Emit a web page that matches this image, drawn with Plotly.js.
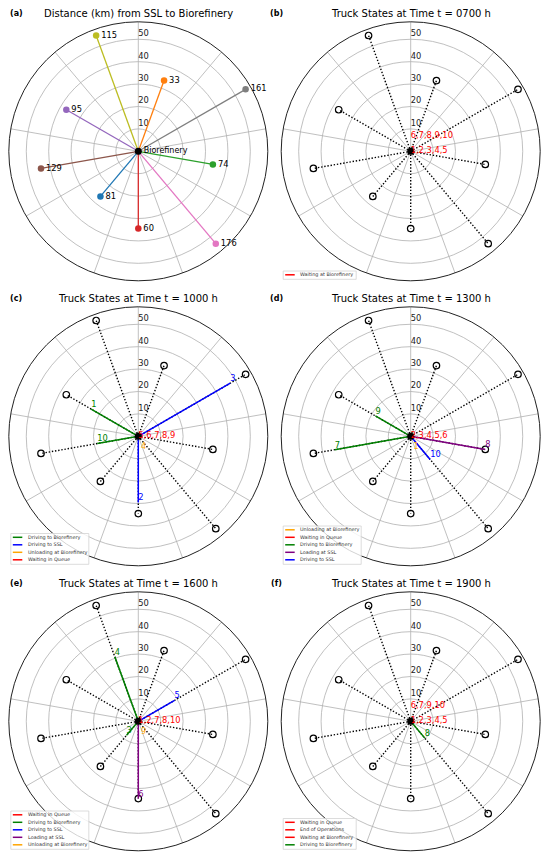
<!DOCTYPE html>
<html><head><meta charset="utf-8">
<script src="https://cdn.plot.ly/plotly-3.0.1.min.js"></script>
<style>html,body{margin:0;padding:0;background:#fff}#chart{width:550px;height:860px}</style>
</head><body><div id="chart"></div>
<script>
// ---------------- data ----------------
const sslIds = [81, 33, 74, 60, 95, 129, 176, 161, 115];
const sslAngles = [220, 20, 100, 180, 300, 260, 140, 60, 340];
const sslDistances = [26.3, 33.6, 33.8, 34.5, 37.1, 44.1, 53.8, 55.3, 55.0];
const radialTicks = [10, 20, 30, 40, 50];
const angularGrid = [0, 40, 80, 120, 160, 200, 240, 280, 320];

const snapshotTimes = ['0700', '1000', '1300', '1600', '1900'];
const panelLetters = ['(a)', '(b)', '(c)', '(d)', '(e)', '(f)'];
const firstTitle = 'Distance (km) from SSL to Biorefinery';

// trucks sitting at the biorefinery (red labels), lower line first
const centerGroups = [
  [[1, 2, 3, 4, 5], [6, 7, 8, 9, 10]],
  [[5, 6, 7, 8, 9]],
  [[2, 3, 4, 5, 6]],
  [[1, 2, 7, 8, 10]],
  [[1, 2, 3, 4, 5], [6, 7, 9, 10]]
];
const unloadingTrucks = [[], [4], [1], [9], []];

const movingTrucks = [[], [1, 10, 3, 2], [9, 7, 8, 10], [4, 5, 6, 3], [8]];
const movingStates = [
  [],
  ['Driving to Biorefinery', 'Driving to Biorefinery', 'Driving to SSL', 'Driving to SSL'],
  ['Driving to Biorefinery', 'Driving to Biorefinery', 'Loading at SSL', 'Driving to SSL'],
  ['Driving to Biorefinery', 'Driving to SSL', 'Loading at SSL', 'Driving to Biorefinery'],
  ['Driving to Biorefinery']
];
const movingSSL = [[], [95, 129, 161, 60], [95, 129, 74, 176], [115, 161, 60, 81], [176]];
const movingDistance = [[], [24.3, 18.6, 47.4, 29.5], [18.2, 34.4, 33.8, 13.5], [30.6, 18.7, 34.5, 8.2], [9.8]];

const legendEntries = [
  ['Waiting at Biorefinery'],
  ['Driving to Biorefinery', 'Driving to SSL', 'Unloading at Biorefinery', 'Waiting in Queue'],
  ['Unloading at Biorefinery', 'Waiting in Queue', 'Driving to Biorefinery', 'Loading at SSL', 'Driving to SSL'],
  ['Waiting in Queue', 'Driving to Biorefinery', 'Driving to SSL', 'Loading at SSL', 'Unloading at Biorefinery'],
  ['Waiting in Queue', 'End of Operations', 'Waiting at Biorefinery', 'Driving to Biorefinery']
];

// ---------------- styles ----------------
const palette = ['#1f77b4', '#ff7f0e', '#2ca02c', '#d62728', '#9467bd', '#8c564b', '#e377c2', '#7f7f7f', '#bcbd22'];
const stateColors = {
  'Driving to Biorefinery': '#008000',
  'Driving to SSL': '#0000ff',
  'Unloading at Biorefinery': '#ffa500',
  'Waiting in Queue': '#ff0000',
  'Loading at SSL': '#800080',
  'Waiting at Biorefinery': '#ff0000',
  'End of Operations': '#ff0000'
};
const W = 550, H = 860, R = 129.5;
const colX = [138.3, 410.7];
const rowY = [151.3, 436.3, 721.3];
const FONT = 'DejaVu Sans, sans-serif';
const RLABEL_SHIFT = 2.3;   // radial labels sit a little outside their ring
const UPPER_LINE_R = 7;     // second row of red labels
const UNLOAD_R = 5.2, UNLOAD_THETA = 153;

const angleOf = id => sslAngles[sslIds.indexOf(id)];

const traces = [];
const layout = {
  width: W, height: H,
  margin: {l: 0, r: 0, t: 0, b: 0},
  paper_bgcolor: '#fff',
  showlegend: false,
  font: {family: FONT, color: '#000'},
  annotations: [],
  shapes: []
};

function polarName(k) { return k === 0 ? 'polar' : 'polar' + (k + 1); }

for (let k = 0; k < 6; k++) {
  const cx = colX[k % 2], cy = rowY[Math.floor(k / 2)];
  const name = polarName(k);
  layout[name] = {
    domain: {x: [(cx - R) / W, (cx + R) / W], y: [1 - (cy + R) / H, 1 - (cy - R) / H]},
    bgcolor: '#fff',
    angularaxis: {
      rotation: 90, direction: 'clockwise',
      tickmode: 'array', tickvals: angularGrid, showticklabels: false, ticks: '',
      gridcolor: '#b0b0b0', gridwidth: 0.8,
      showline: true, linecolor: '#222', linewidth: 1
    },
    radialaxis: {
      range: [0, 57.8], tickmode: 'array', tickvals: radialTicks,
      angle: 90, showticklabels: false,
      showline: false, ticks: '',
      gridcolor: '#b0b0b0', gridwidth: 0.8
    }
  };
  // radial tick labels, drawn through the polar scale
  traces.push({type: 'scatterpolar', subplot: name, mode: 'text',
    r: radialTicks.map(v => v + RLABEL_SHIFT), theta: radialTicks.map(() => 0),
    text: radialTicks.map(String), textposition: 'middle right',
    textfont: {size: 8.3, color: '#222', family: FONT}, hoverinfo: 'skip'});

  // titles
  layout.annotations.push({
    xref: 'paper', yref: 'paper', x: cx / W, y: 1 - (cy - 138) / H,
    text: k === 0 ? firstTitle : 'Truck States at Time t = ' + snapshotTimes[k - 1] + ' h',
    showarrow: false, xanchor: 'center', yanchor: 'middle',
    font: {size: 10, color: '#000', family: FONT}
  });
  layout.annotations.push({
    xref: 'paper', yref: 'paper', x: (k % 2 === 0 ? 16 : 276.5) / W, y: 1 - (cy - 138) / H,
    text: '<b>' + panelLetters[k] + '</b>',
    showarrow: false, xanchor: 'center', yanchor: 'middle',
    font: {size: 8, color: '#000', family: FONT}
  });

  if (k === 0) {
    sslIds.forEach((id, i) => {
      traces.push({type: 'scatterpolar', subplot: name, mode: 'lines',
        r: [0, sslDistances[i]], theta: [sslAngles[i], sslAngles[i]],
        line: {color: palette[i], width: 1.3}, hoverinfo: 'skip'});
    });
    traces.push({type: 'scatterpolar', subplot: name, mode: 'markers+text',
      r: sslDistances, theta: sslAngles, text: sslIds.map(String),
      textposition: 'middle right', textfont: {size: 8.3, color: '#000', family: FONT},
      marker: {color: palette, size: 6.5}, hoverinfo: 'skip'});
    traces.push({type: 'scatterpolar', subplot: name, mode: 'markers+text',
      r: [0], theta: [0], text: ['Biorefinery'], textposition: 'middle right',
      textfont: {size: 8, color: '#000', family: FONT},
      marker: {color: '#000', size: 7}, hoverinfo: 'skip'});
    continue;
  }

  const p = k - 1;
  // dotted routes
  sslIds.forEach((id, i) => {
    traces.push({type: 'scatterpolar', subplot: name, mode: 'lines',
      r: [0, sslDistances[i]], theta: [sslAngles[i], sslAngles[i]],
      line: {color: '#000', width: 1.4, dash: '1.4px,1.8px'}, hoverinfo: 'skip'});
  });
  traces.push({type: 'scatterpolar', subplot: name, mode: 'markers',
    r: sslDistances, theta: sslAngles,
    marker: {symbol: 'circle-open', color: '#000', size: 6.5, line: {width: 1.2, color: '#000'}},
    hoverinfo: 'skip'});
  // moving trucks
  movingTrucks[p].forEach((t, j) => {
    const a = angleOf(movingSSL[p][j]);
    const c = stateColors[movingStates[p][j]];
    traces.push({type: 'scatterpolar', subplot: name, mode: 'lines+text',
      r: [0, movingDistance[p][j]], theta: [a, a], text: ['', String(t)],
      textposition: 'top right', textfont: {size: 8.3, color: c, family: FONT},
      line: {color: c, width: 1.5}, hoverinfo: 'skip'});
  });
  // biorefinery dot
  traces.push({type: 'scatterpolar', subplot: name, mode: 'markers',
    r: [0], theta: [0], marker: {color: '#000', size: 7}, hoverinfo: 'skip'});
  // trucks at biorefinery
  centerGroups[p].forEach((g, j) => {
    traces.push({type: 'scatterpolar', subplot: name, mode: 'text',
      r: [j === 0 ? 0 : UPPER_LINE_R], theta: [0], text: [g.join(',')],
      textposition: 'middle right', textfont: {size: 8.3, color: '#ff0000', family: FONT},
      hoverinfo: 'skip'});
  });
  if (unloadingTrucks[p].length) {
    traces.push({type: 'scatterpolar', subplot: name, mode: 'text',
      r: [UNLOAD_R], theta: [UNLOAD_THETA], text: [unloadingTrucks[p].join(',')],
      textposition: 'middle center', textfont: {size: 8, color: '#ffa500', family: FONT},
      hoverinfo: 'skip'});
  }
  // legend (small matplotlib-style box)
  const entries = legendEntries[p];
  const left = cx - 127.5, bottom = cy + 128, step = 7.5;
  const lastY = bottom - 4.5;
  const firstY = lastY - step * (entries.length - 1);
  const top = firstY - 3.8;
  const maxLen = Math.max(...entries.map(e => e.length));
  const right = left + 15 + maxLen * 2.5 + 3;
  const px = x => x / W, py = y => 1 - y / H;
  layout.shapes.push({type: 'rect', xref: 'paper', yref: 'paper',
    x0: px(left), x1: px(right), y0: py(bottom), y1: py(top),
    line: {color: '#d3d3d3', width: 0.8}, fillcolor: 'rgba(255,255,255,0.8)', layer: 'above'});
  entries.forEach((e, j) => {
    const y = firstY + j * step;
    layout.shapes.push({type: 'line', xref: 'paper', yref: 'paper',
      x0: px(left + 2), x1: px(left + 11.5), y0: py(y), y1: py(y),
      line: {color: stateColors[e], width: 1.5}, layer: 'above'});
    layout.annotations.push({xref: 'paper', yref: 'paper', x: px(left + 15), y: py(y),
      text: e, showarrow: false, xanchor: 'left', yanchor: 'middle',
      font: {size: 4.9, color: '#333', family: FONT}});
  });
}

Plotly.newPlot('chart', traces, layout, {staticPlot: true, displayModeBar: false});
</script>
</body></html>
